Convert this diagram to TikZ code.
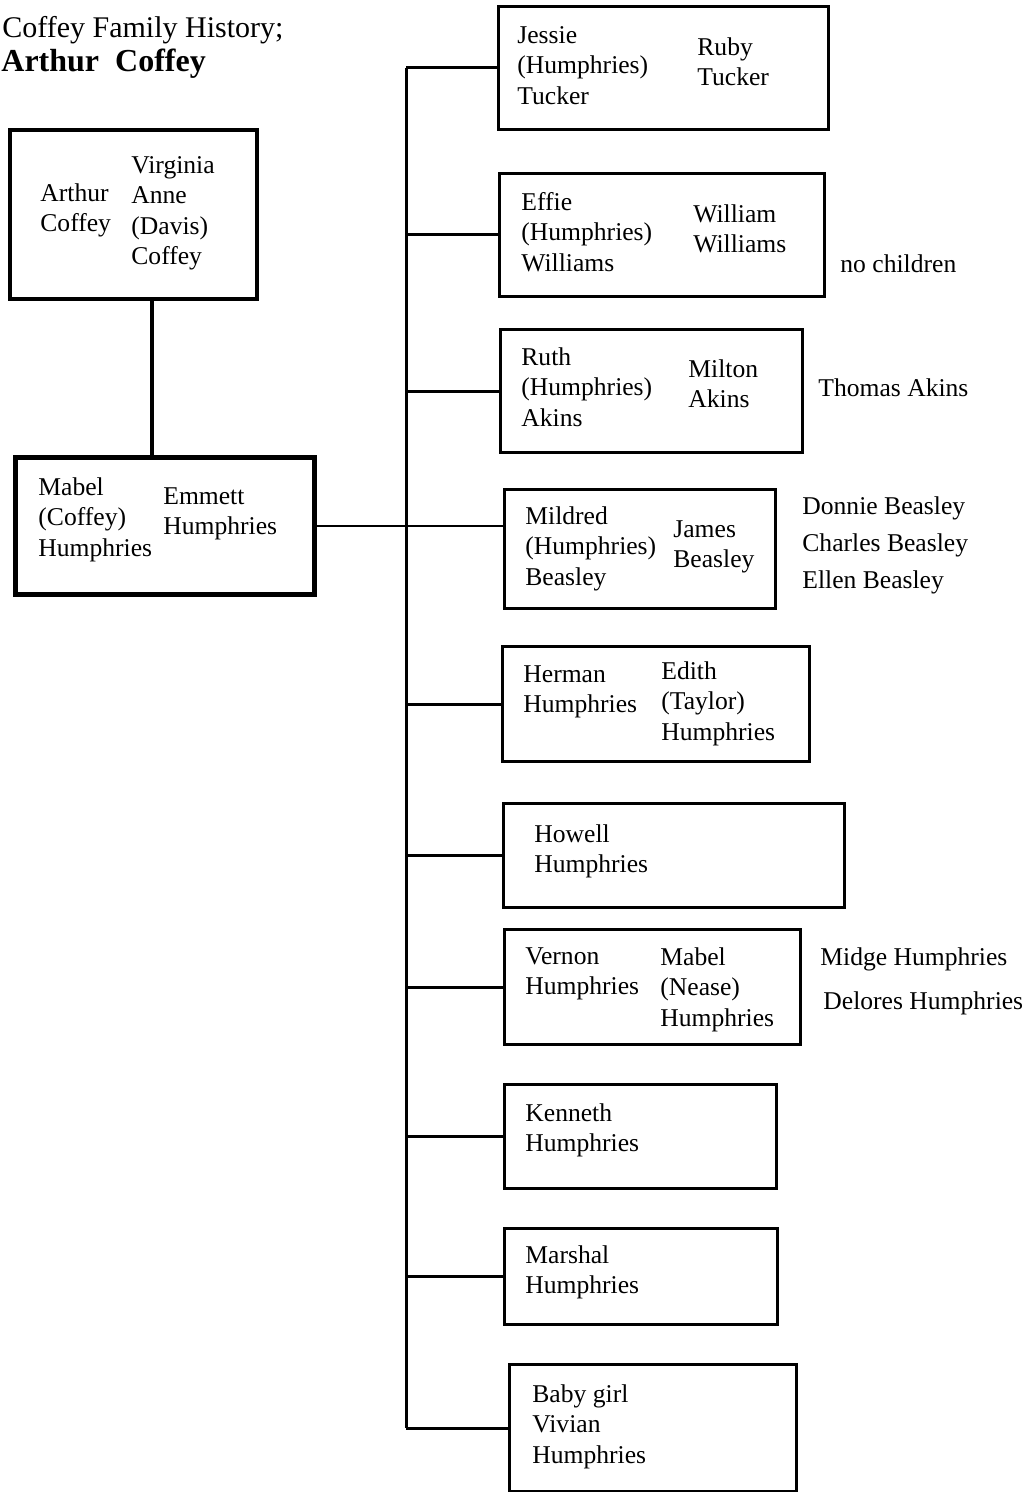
\documentclass[tikz,border=0pt]{standalone}
\usepackage{fontspec}
\setmainfont{Liberation Serif}
\newcommand\pxu{0.5pt}
\begin{document}
\begin{tikzpicture}[x=0.5pt,y=-0.5pt,
  txt/.style={anchor=north west, inner sep=0pt, align=left,
    font=\fontsize{12.8}{15.25}\selectfont},
  sidetxt/.style={txt, font=\fontsize{12.8}{18.5}\selectfont},
  fam/.style={draw, line width=1.5pt, inner sep=0pt, anchor=north west},
  branch/.style={line width=1.5pt},
]
\useasboundingbox (0,0) rectangle (1035,1492);

% title
\node[anchor=north west, inner sep=0pt, font=\fontsize{15}{18}\selectfont] (title1) at (2,16) {Coffey Family History;};
\node[anchor=north west, inner sep=0pt, font=\fontsize{16}{19}\selectfont\bfseries] (title2) at (1,49) {Arthur\ \ Coffey};

% parents
\node[fam, line width=1.8pt, minimum width={247*\pxu}, minimum height={169*\pxu}] (A) at (8,128) {};
\node[txt] (arthur) at (40,183) {Arthur\\Coffey};
\node[txt] (virginia) at (131,156) {Virginia\\Anne\\(Davis)\\Coffey};

\node[fam, line width=2.3pt, minimum width={299*\pxu}, minimum height={137*\pxu}] (B) at (13,455) {};
\node[txt] (mabel) at (38,477) {Mabel\\(Coffey)\\Humphries};
\node[txt] (emmett) at (163,487) {Emmett\\Humphries};

\draw[line width=2.1pt] ([xshift={18.5*\pxu}]A.south) -- ([xshift={18.5*\pxu}]A.south |- B.north);

% children boxes
\node[fam, minimum width={330*\pxu}, minimum height={123*\pxu}] (c1) at (497,5) {};
\node[txt] (jessie) at (517,26) {Jessie\\(Humphries)\\Tucker};
\node[txt] (ruby) at (697,37) {Ruby\\Tucker};

\node[fam, minimum width={325*\pxu}, minimum height={123*\pxu}] (c2) at (498,172) {};
\node[txt] (effie) at (521,192) {Effie\\(Humphries)\\Williams};
\node[txt] (william) at (693,204) {William\\Williams};
\node[txt] (nochild) at (840,254) {no children};

\node[fam, minimum width={302*\pxu}, minimum height={123*\pxu}] (c3) at (499,328) {};
\node[txt] (ruth) at (521,347) {Ruth\\(Humphries)\\Akins};
\node[txt] (milton) at (688,359) {Milton\\Akins};
\node[txt] (thomas) at (818,378) {Thomas Akins};

\node[fam, minimum width={271*\pxu}, minimum height={119*\pxu}] (c4) at (503,488) {};
\node[txt] (mildred) at (525,506) {Mildred\\(Humphries)\\Beasley};
\node[txt] (james) at (673,520) {James\\Beasley};
\node[sidetxt] (beasleys) at (802,496) {Donnie Beasley\\Charles Beasley\\Ellen Beasley};

\node[fam, minimum width={307*\pxu}, minimum height={115*\pxu}] (c5) at (501,645) {};
\node[txt] (herman) at (523,665) {Herman\\Humphries};
\node[txt] (edith) at (661,661) {Edith\\(Taylor)\\Humphries};

\node[fam, minimum width={341*\pxu}, minimum height={104*\pxu}] (c6) at (502,802) {};
\node[txt] (howell) at (534,824) {Howell\\Humphries};

\node[fam, minimum width={296*\pxu}, minimum height={115*\pxu}] (c7) at (503,928) {};
\node[txt] (vernon) at (525,947) {Vernon\\Humphries};
\node[txt] (mabeln) at (660,947) {Mabel\\(Nease)\\Humphries};
\node[txt] (midge) at (820,947) {Midge Humphries};
\node[txt] (delores) at (823,991) {Delores Humphries};

\node[fam, minimum width={272*\pxu}, minimum height={104*\pxu}] (c8) at (503,1083) {};
\node[txt] (kenneth) at (525,1103) {Kenneth\\Humphries};

\node[fam, minimum width={273*\pxu}, minimum height={96*\pxu}] (c9) at (503,1227) {};
\node[txt] (marshal) at (525,1245) {Marshal\\Humphries};

\node[fam, minimum width={287*\pxu}, minimum height={127*\pxu}] (c10) at (508,1363) {};
\node[txt] (baby) at (532,1384) {Baby girl\\Vivian\\Humphries};

% trunk and branches
\coordinate (tx) at (406,0);
\draw[branch] (tx |- c1.west) -- (tx |- c10.west);
\foreach \c in {c1,c2,c3,c5,c6,c7,c8,c9,c10}
  \draw[branch] (tx |- \c.west) -- (\c.west);
\draw[line width=1.2pt] (B.east) -- (B.east -| c4.west);
\end{tikzpicture}
\end{document}
